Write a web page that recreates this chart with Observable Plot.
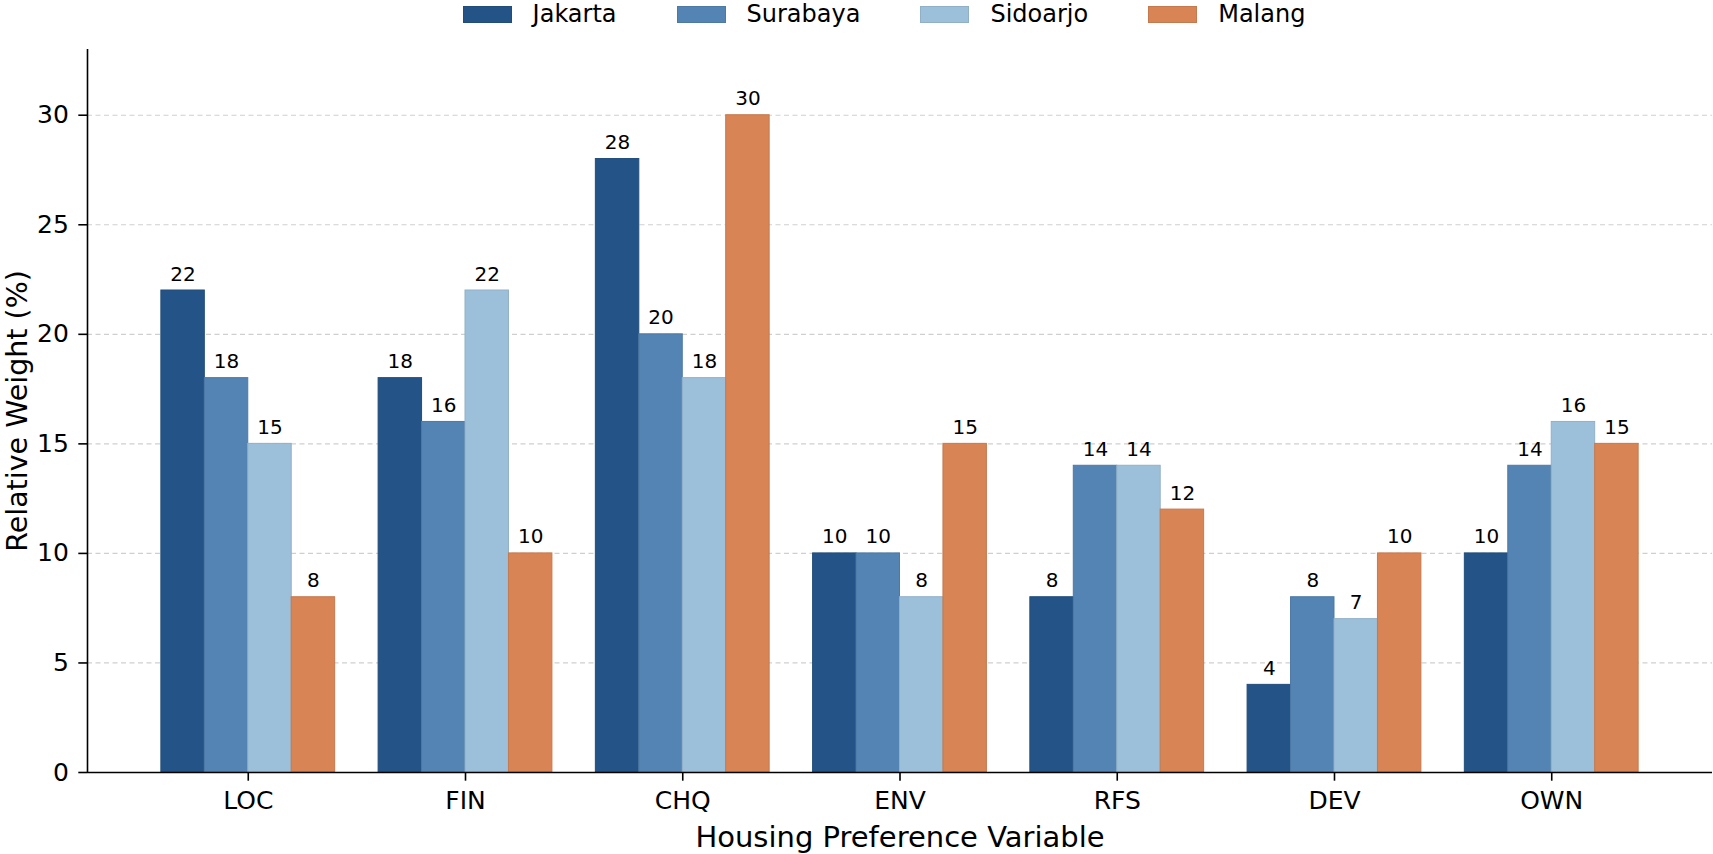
<!DOCTYPE html>
<html><head><meta charset="utf-8">
<script src="https://cdn.jsdelivr.net/npm/d3@7"></script>
<script src="https://cdn.jsdelivr.net/npm/@observablehq/plot@0.6"></script>
<style>
html,body{margin:0;padding:0;background:#fff;overflow:hidden;}
body{font-family:"DejaVu Sans",sans-serif;color:#000;}
#legend{height:40px;display:flex;justify-content:center;align-items:flex-start;padding-left:55px;padding-top:2px;box-sizing:border-box;}
.item{display:flex;align-items:center;height:24px;line-height:24px;margin:0 30px;font-size:24px;}
.sw{width:49px;height:17px;margin-right:21px;box-sizing:border-box;border:1px solid;}
</style></head><body>
<div id="legend"></div><div id="chart"></div>
<script>
const categories = ["LOC","FIN","CHQ","ENV","RFS","DEV","OWN"];
const cities = ["Jakarta","Surabaya","Sidoarjo","Malang"];
const jakarta  = [22,18,28,10, 8, 4,10];
const surabaya = [18,16,20,10,14, 8,14];
const sidoarjo = [15,22,18, 8,14, 7,16];
const malang   = [ 8,10,30,15,12,10,15];
const colors = ["#245487","#5484b4","#9dc0da","#d88455"];
const yTicks = [0,5,10,15,20,25,30];

const series = [jakarta, surabaya, sidoarjo, malang];
const table = [];
categories.forEach((c, i) => series.forEach((s, j) => table.push({category: c, city: cities[j], value: s[i], i, j})));

const barW = 0.8 / cities.length;
const xDomain = [-0.74, categories.length - 1 + 0.74];
const strokeColors = colors.map(c => d3.color(c).darker(0.25).formatHex());

const plot = Plot.plot({
  width: 1713,
  height: 814,
  marginLeft: 87,
  marginRight: 1,
  marginTop: 9,
  marginBottom: 82,
  style: {fontFamily: "DejaVu Sans, sans-serif", color: "#000", background: "#fff"},
  x: {type: "linear", domain: xDomain, axis: null},
  y: {domain: [0, 33], axis: null},
  color: {domain: cities, range: colors},
  marks: [
    Plot.gridY(yTicks.slice(1), {stroke: "#cfcfcf", strokeOpacity: 1, strokeWidth: 1.2, strokeDasharray: "5,3.5"}),
    Plot.rectY(table, {
      x1: d => d.i - 0.4 + d.j * barW,
      x2: d => d.i - 0.4 + (d.j + 1) * barW,
      y1: 0, y2: "value",
      fill: "city",
      stroke: d => strokeColors[d.j],
      strokeWidth: 1
    }),
    Plot.text(table, {
      x: d => d.i - 0.4 + (d.j + 0.5) * barW,
      y: "value",
      text: d => String(d.value),
      lineAnchor: "bottom",
      dy: -10,
      fontSize: 20,
      fill: "#000"
    }),
    Plot.axisY({ticks: yTicks, tickSize: 8.7, tickPadding: 10, fontSize: 25, label: null, strokeWidth: 1.6}),
    Plot.axisX({ticks: d3.range(categories.length), tickFormat: i => categories[i], tickSize: 8.7, tickPadding: 10, fontSize: 25, label: null, strokeWidth: 1.6}),
    Plot.ruleY([0], {stroke: "#000", strokeWidth: 1.6}),
    Plot.ruleX([xDomain[0]], {y1: 0, y2: 33, stroke: "#000", strokeWidth: 1.6}),
    Plot.text(["Relative Weight (%)"], {frameAnchor: "left", textAnchor: "middle", rotate: -90, dx: -70, fontSize: 28.5, fill: "#000"}),
    Plot.text(["Housing Preference Variable"], {frameAnchor: "bottom", textAnchor: "middle", dy: 74, fontSize: 29, fill: "#000"})
  ]
});
document.getElementById("chart").appendChild(plot);

const legend = document.getElementById("legend");
cities.forEach((c, j) => {
  const it = document.createElement("div");
  it.className = "item";
  const sw = document.createElement("div");
  sw.className = "sw";
  sw.style.background = colors[j];
  sw.style.borderColor = strokeColors[j];
  const t = document.createElement("span");
  t.textContent = c;
  it.appendChild(sw); it.appendChild(t);
  legend.appendChild(it);
});
</script>
</body></html>
